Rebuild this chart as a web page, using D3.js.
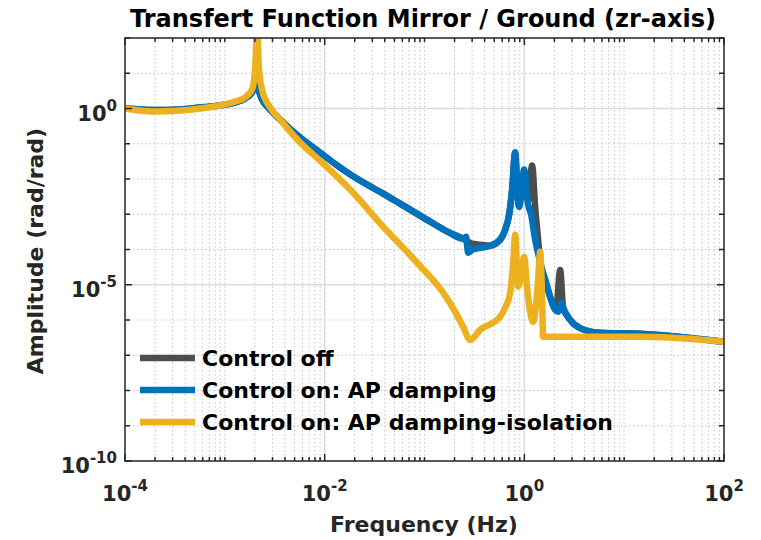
<!DOCTYPE html>
<html>
<head>
<meta charset="utf-8">
<script src="https://cdn.jsdelivr.net/npm/d3@7"></script>
<style>
	body { margin:0; background:#fff; }
	svg { display:block; }
	.lbl { font-family:"DejaVu Sans", sans-serif; font-weight:bold; fill:#262626; }
</style>
</head>
<body>
<div id="chart"></div>
<script>
'use strict';

// series names + colours (legend order)
var seriesNames = ["Control off", "Control on: AP damping", "Control on: AP damping-isolation"];
var seriesColors = ["#4d4d4d", "#0072bd", "#edb120"];

// tick labels (powers of ten)
var xTickExp = [-4, -2, 0, 2];
var yTickExp = [-10, -5, 0];

// control off
var freqOff = [1e-4, 1.41e-4, 2.00e-4, 3.56e-4, 5.64e-4, 8.95e-4, 1.27e-3, 1.59e-3, 1.87e-3, 2.05e-3, 2.20e-3, 2.36e-3, 2.84e-3, 3.57e-3, 5.67e-3, 8.99e-3, 1.43e-2, 2.26e-2, 3.85e-2, 5.69e-2, 0.114, 0.17, 0.244, 0.300, 0.361, 0.454, 0.572, 0.642, 0.704, 0.755, 0.809, 0.847, 0.887, 0.929, 0.995, 1.092, 1.197, 1.283, 1.375, 1.440, 1.616, 1.813, 2.083, 2.285, 2.448, 2.877, 3.62, 5.75, 14.5, 45.8, 100];
var ampOff = [1.0, 0.937, 0.906, 0.937, 1.07, 1.22, 1.48, 1.92, 2.85, 4.81, 3.04, 1.80, 0.937, 0.487, 0.150, 0.0562, 0.0211, 9.01e-3, 3.85e-3, 2.0e-3, 6.17e-4, 3.2e-4, 2.03e-4, 1.46e-4, 1.37e-4, 1.28e-4, 1.90e-4, 3.65e-4, 9.75e-4, 5.0e-3, 0.0562, 6.93e-3, 1.64e-3, 3.60e-3, 0.012, 2.5e-3, 0.024, 1.64e-3, 1.9e-4, 4.5e-5, 1.39e-5, 4.56e-6, 1.95e-6, 2.6e-5, 2.2e-6, 1.01e-6, 5.9e-7, 4.33e-7, 4.05e-7, 3.1e-7, 2.40e-7];

// control on : AP damping
var freqDamp = [1e-4, 1.41e-4, 2.00e-4, 3.56e-4, 5.64e-4, 8.95e-4, 1.27e-3, 1.59e-3, 1.87e-3, 2.05e-3, 2.20e-3, 2.36e-3, 2.84e-3, 3.57e-3, 5.67e-3, 8.99e-3, 1.43e-2, 2.26e-2, 3.85e-2, 5.69e-2, 0.114, 0.17, 0.244, 0.261, 0.273, 0.300, 0.361, 0.454, 0.572, 0.642, 0.704, 0.755, 0.809, 0.847, 0.887, 0.929, 0.995, 1.092, 1.170, 1.283, 1.440, 1.616, 1.813, 2.035, 2.182, 2.338, 2.505, 2.877, 3.62, 5.75, 14.5, 45.8, 100];
var ampDamp = [1.0, 0.937, 0.906, 0.937, 1.07, 1.22, 1.48, 1.92, 2.85, 4.81, 3.04, 1.80, 0.937, 0.487, 0.150, 0.0562, 0.0211, 9.01e-3, 3.85e-3, 2.0e-3, 6.17e-4, 3.2e-4, 2.03e-4, 2.31e-4, 8.11e-5, 9.87e-5, 1.12e-4, 1.28e-4, 1.90e-4, 3.65e-4, 9.75e-4, 5.0e-3, 0.0562, 6.93e-3, 1.64e-3, 3.60e-3, 0.0185, 1.87e-3, 9.75e-4, 1.90e-4, 4.50e-5, 1.39e-5, 4.56e-6, 1.95e-6, 1.71e-6, 3.08e-6, 1.95e-6, 1.01e-6, 5.9e-7, 4.33e-7, 4.05e-7, 3.1e-7, 2.40e-7];

// control on : AP damping-isolation
var freqIso = [1e-4, 1.41e-4, 2.00e-4, 3.56e-4, 5.64e-4, 8.95e-4, 1.27e-3, 1.59e-3, 1.87e-3, 2.01e-3, 2.10e-3, 2.20e-3, 2.36e-3, 2.84e-3, 3.57e-3, 5.67e-3, 8.99e-3, 1.43e-2, 1.80e-2, 3.85e-2, 8.43e-2, 0.154, 0.203, 0.244, 0.286, 0.361, 0.572, 0.642, 0.721, 0.772, 0.809, 0.867, 0.929, 0.995, 1.067, 1.225, 1.375, 1.440, 1.508, 1.543, 1.616, 14.5, 45.8, 100];
var ampIso = [1.0, 0.877, 0.822, 0.877, 1.0, 1.22, 1.58, 2.05, 3.46, 12.8, 150, 12.8, 3.46, 1.07, 0.487, 0.108, 0.0333, 9.62e-3, 5.0e-3, 4.45e-4, 4.22e-5, 5.93e-6, 1.71e-6, 6.41e-7, 2.74e-7, 5.27e-7, 1.23e-6, 2.22e-6, 5.93e-6, 3.7e-5, 2.63e-4, 8.78e-6, 1.92e-5, 6.24e-5, 8.0e-6, 8.89e-7, 1.39e-5, 8.66e-5, 3.75e-6, 3.33e-7, 3.33e-7, 3.33e-7, 2.92e-7, 2.40e-7];

var width = 761;
var height = 540;
var pl = 125, pr = 724, pt = 38, pb = 461; // plot box

var svg = d3.select("#chart").append("svg")
	.attr("width", width)
	.attr("height", height);

var x = d3.scaleLog().domain([1e-4, 1e2]).range([pl, pr]);
var y = d3.scaleLog().domain([1e-10, 1e2]).range([pb, pt]);

// grid values
var xMinor = [], xMajor = [];
for (var e = -4; e < 2; e++) {
	for (var k = 1; k < 10; k++) {
		var v = k * Math.pow(10, e);
		if (k == 1 && xTickExp.indexOf(e) >= 0) xMajor.push(v);
		else xMinor.push(v);
	}
}
xMajor.push(1e2);
var yMinor = [], yMajor = [];
for (var e2 = -10; e2 <= 2; e2++) {
	if (yTickExp.indexOf(e2) >= 0) yMajor.push(Math.pow(10, e2));
	else yMinor.push(Math.pow(10, e2));
}

var grid = svg.append("g");
grid.selectAll(".gx").data(xMinor).enter().append("line")
	.attr("x1", function(d) { return x(d); })
	.attr("x2", function(d) { return x(d); })
	.attr("y1", pt).attr("y2", pb)
	.attr("stroke", "#c4c4c4").attr("stroke-dasharray", "1.5,2.5");
grid.selectAll(".gy").data(yMinor).enter().append("line")
	.attr("y1", function(d) { return y(d); })
	.attr("y2", function(d) { return y(d); })
	.attr("x1", pl).attr("x2", pr)
	.attr("stroke", "#c4c4c4").attr("stroke-dasharray", "1.5,2.5");
grid.selectAll(".gX").data(xMajor.slice(1, -1)).enter().append("line")
	.attr("x1", function(d) { return x(d); })
	.attr("x2", function(d) { return x(d); })
	.attr("y1", pt).attr("y2", pb)
	.attr("stroke", "#dcdcdc").attr("stroke-width", 1.5);
grid.selectAll(".gY").data(yMajor.slice(1)).enter().append("line")
	.attr("y1", function(d) { return y(d); })
	.attr("y2", function(d) { return y(d); })
	.attr("x1", pl).attr("x2", pr)
	.attr("stroke", "#dcdcdc").attr("stroke-width", 1.5);

// curves
svg.append("clipPath").attr("id", "clip")
	.append("rect").attr("x", pl).attr("y", pt).attr("width", pr - pl).attr("height", pb - pt);

var line = d3.line()
	.x(function(d) { return x(d[0]); })
	.y(function(d) { return y(d[1]); })
	.curve(d3.curveMonotoneX);

var series = [d3.zip(freqOff, ampOff), d3.zip(freqDamp, ampDamp), d3.zip(freqIso, ampIso)];

svg.append("g").attr("clip-path", "url(#clip)")
	.selectAll("path").data(series).enter().append("path")
	.attr("d", line)
	.attr("fill", "none")
	.attr("stroke", function(d, i) { return seriesColors[i]; })
	.attr("stroke-width", 6.5)
	.attr("stroke-linejoin", "round")
	.attr("stroke-linecap", "round");

// axes box + ticks
var ax = svg.append("g").attr("stroke", "#262626").attr("stroke-width", 1.5);
ax.append("rect").attr("x", pl).attr("y", pt).attr("width", pr - pl).attr("height", pb - pt)
	.attr("fill", "none");

var xt = xMinor.map(function(d) { return {v:d, len:4}; })
	.concat(xMajor.map(function(d) { return {v:d, len:7}; }));
ax.selectAll(".tb").data(xt).enter().append("line")
	.attr("x1", function(d) { return x(d.v); }).attr("x2", function(d) { return x(d.v); })
	.attr("y1", pb).attr("y2", function(d) { return pb - d.len; });
ax.selectAll(".tt").data(xt).enter().append("line")
	.attr("x1", function(d) { return x(d.v); }).attr("x2", function(d) { return x(d.v); })
	.attr("y1", pt).attr("y2", function(d) { return pt + d.len; });

var yt = yMinor.map(function(d) { return {v:d, len:5}; })
	.concat(yMajor.map(function(d) { return {v:d, len:7}; }));
ax.selectAll(".tl").data(yt).enter().append("line")
	.attr("y1", function(d) { return y(d.v); }).attr("y2", function(d) { return y(d.v); })
	.attr("x1", pl).attr("x2", function(d) { return pl + d.len; });
ax.selectAll(".tr").data(yt).enter().append("line")
	.attr("y1", function(d) { return y(d.v); }).attr("y2", function(d) { return y(d.v); })
	.attr("x1", pr).attr("x2", function(d) { return pr - d.len; });

// tick labels
function powLabel(sel) {
	sel.append("tspan").text("10");
	sel.append("tspan").attr("dy", -10).attr("font-size", 15).text(function(d) { return d; });
}
svg.selectAll(".xl").data(xTickExp).enter().append("text")
	.attr("class", "lbl")
	.attr("x", function(d) { return x(Math.pow(10, d)); })
	.attr("y", 501)
	.attr("text-anchor", "middle")
	.attr("font-size", 21)
	.call(powLabel);
svg.selectAll(".yl").data(yTickExp).enter().append("text")
	.attr("class", "lbl")
	.attr("x", 117)
	.attr("y", function(d) { return y(Math.pow(10, d)) + 12; })
	.attr("text-anchor", "end")
	.attr("font-size", 21)
	.call(powLabel);

// titles
svg.append("text").attr("class", "lbl")
	.attr("x", 423).attr("y", 27)
	.attr("text-anchor", "middle").attr("font-size", 24)
	.style("fill", "#000")
	.text("Transfert Function Mirror / Ground (zr-axis)");
svg.append("text").attr("class", "lbl")
	.attr("x", 424).attr("y", 532)
	.attr("text-anchor", "middle").attr("font-size", 22)
	.text("Frequency (Hz)");
svg.append("text").attr("class", "lbl")
	.attr("transform", "translate(43,251) rotate(-90)")
	.attr("text-anchor", "middle").attr("font-size", 22)
	.text("Amplitude (rad/rad)");

// legend
var leg = svg.append("g").selectAll("g").data(seriesNames).enter().append("g")
	.attr("transform", function(d, i) { return "translate(140," + (358 + i * 32) + ")"; });
leg.append("line")
	.attr("x1", 0).attr("x2", 55)
	.attr("stroke", function(d, i) { return seriesColors[i]; })
	.attr("stroke-width", 6.5);
leg.append("text").attr("class", "lbl")
	.attr("x", 62).attr("y", 8)
	.attr("font-size", 22).style("fill", "#000")
	.text(function(d) { return d; });
</script>
</body>
</html>
